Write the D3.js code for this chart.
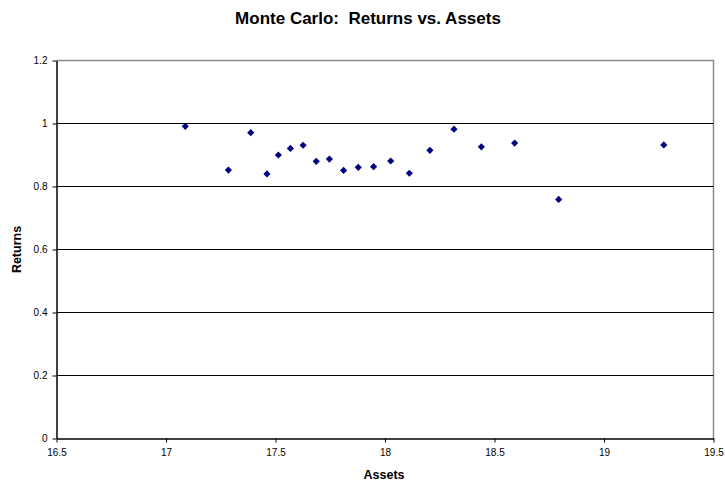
<!DOCTYPE html>
<html>
<head>
<meta charset="utf-8">
<script src="https://cdn.jsdelivr.net/npm/d3@7"></script>
<style>
  html, body { margin: 0; padding: 0; background: #fff; }
  svg { display: block; font-family: Arial, "Liberation Sans", sans-serif; }
</style>
</head>
<body>
<svg id="chart" width="725" height="484"></svg>
<script>
// Simulated runs: total assets and the matching return
const assets = [17.088, 17.285, 17.387, 17.461, 17.513, 17.568, 17.626, 17.686, 17.746, 17.811,
                17.878, 17.948, 18.026, 18.111, 18.205, 18.315, 18.440, 18.592, 18.793, 19.273];
const returns = [0.991, 0.852, 0.971, 0.840, 0.900, 0.921, 0.931, 0.880, 0.887, 0.851,
                 0.861, 0.863, 0.881, 0.842, 0.915, 0.982, 0.926, 0.938, 0.759, 0.932];
const xTicks = [16.5, 17, 17.5, 18, 18.5, 19, 19.5];
const yTicks = [0, 0.2, 0.4, 0.6, 0.8, 1, 1.2];

const svg = d3.select("#chart");
const plotLeft = 56.5, plotRight = 713.5, plotTop = 60.5, plotBottom = 438.5;

const x = d3.scaleLinear().domain([16.5, 19.5]).range([plotLeft, plotRight]);
const y = d3.scaleLinear().domain([0, 1.2]).range([plotBottom, plotTop]);

// Plot frame: grey top and right edges
svg.append("path")
  .attr("d", `M${plotLeft},${plotTop}H${plotRight}V${plotBottom}`)
  .attr("fill", "none").attr("stroke", "#8c8c8c").attr("stroke-width", 1.5);

// Horizontal gridlines
svg.append("g")
  .selectAll("line")
  .data(yTicks.filter(t => t > 0 && t < 1.2))
  .join("line")
  .attr("x1", plotLeft).attr("x2", plotRight)
  .attr("y1", d => y(d)).attr("y2", d => y(d))
  .attr("stroke", "#000").attr("stroke-width", 1);

// Axes
const fmt = d => String(d);
const xAxis = svg.append("g")
  .attr("transform", `translate(0,${plotBottom})`)
  .call(d3.axisBottom(x).tickValues(xTicks).tickFormat(fmt).tickSize(4).tickSizeOuter(0).tickPadding(6));
const yAxis = svg.append("g")
  .attr("transform", `translate(${plotLeft},0)`)
  .call(d3.axisLeft(y).tickValues(yTicks).tickFormat(fmt).tickSize(4).tickSizeOuter(0).tickPadding(5));

[xAxis, yAxis].forEach(g => {
  g.select(".domain").attr("stroke", "#000").attr("stroke-width", 1.5);
  g.selectAll(".tick line").attr("stroke", "#000");
  g.selectAll(".tick text")
    .attr("fill", "#000")
    .style("font-size", "10px")
    .style("font-family", "Arial, 'Liberation Sans', sans-serif");
});

// Points as diamonds
svg.append("g")
  .selectAll("path")
  .data(assets.map((a, i) => [a, returns[i]]))
  .join("path")
  .attr("transform", d => `translate(${x(d[0])},${y(d[1])})`)
  .attr("d", "M0,-3.6L3.6,0L0,3.6L-3.6,0Z")
  .attr("fill", "#000080");

// Titles
svg.append("text")
  .attr("x", 368).attr("y", 24)
  .attr("text-anchor", "middle")
  .attr("xml:space", "preserve")
  .style("font-size", "17px").style("font-weight", "bold")
  .style("white-space", "pre")
  .text("Monte Carlo:  Returns vs. Assets");

svg.append("text")
  .attr("x", 384).attr("y", 479)
  .attr("text-anchor", "middle")
  .style("font-size", "12.5px").style("font-weight", "bold")
  .text("Assets");

svg.append("text")
  .attr("transform", `translate(21,${(plotTop + plotBottom) / 2}) rotate(-90)`)
  .attr("text-anchor", "middle")
  .style("font-size", "12.5px").style("font-weight", "bold")
  .text("Returns");
</script>
</body>
</html>
